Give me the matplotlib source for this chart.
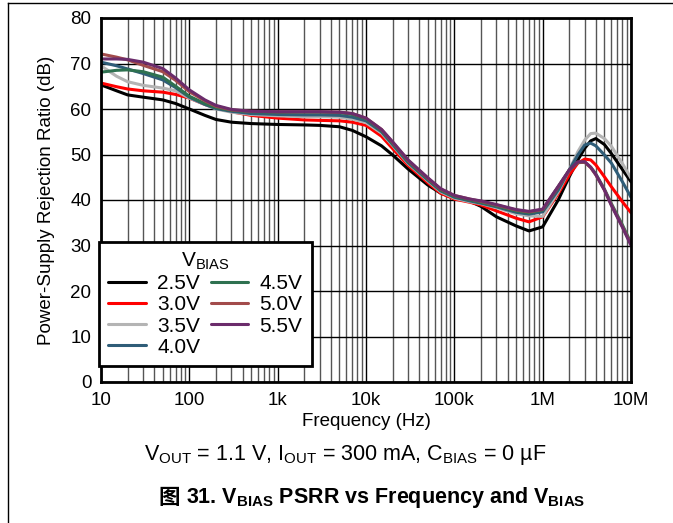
import matplotlib
matplotlib.use('Agg')
import matplotlib.pyplot as plt
from matplotlib.lines import Line2D
from matplotlib.ticker import LogLocator, NullFormatter

plt.rcParams['font.family'] = ['Liberation Sans', 'Noto Sans CJK SC']
plt.rcParams['mathtext.fontset'] = 'custom'
plt.rcParams['mathtext.rm'] = 'Liberation Sans'
plt.rcParams['mathtext.it'] = 'Liberation Sans:italic'
plt.rcParams['mathtext.bf'] = 'Liberation Sans:bold'

FS_TICK = 13.5
FS_LABEL = 13.5
FS_LEG = 15
FS_BIG = 15.5

freq = [10, 15, 20, 30, 50, 70, 100, 150, 200, 300, 500, 1e3, 2e3, 3e3, 5e3, 7e3,
        1e4, 1.5e4, 2e4, 3e4, 5e4, 7e4, 1e5, 1.5e5, 2e5, 3e5, 5e5, 7e5,
        1e6, 1.5e6, 2e6, 2.5e6, 3e6, 3.5e6, 4e6, 5e6, 6e6, 8e6, 1e7]

psrr_25 = [65.3, 64.0, 63.1, 62.6, 62.0, 61.2, 60.0, 58.6, 57.7, 57.1, 56.8, 56.6, 56.5, 56.4, 56.1, 55.3,
           53.9, 51.9, 49.9, 46.8, 43.3, 41.5, 40.4, 39.7, 38.6, 36.3, 34.3, 33.2,
           34.1, 40.0, 45.1, 48.8, 51.4, 53.0, 53.5, 52.2, 50.2, 46.7, 44.0]
psrr_30 = [65.7, 64.9, 64.4, 64.0, 63.7, 63.2, 62.4, 61.0, 60.2, 59.4, 58.6, 58.0, 57.6, 57.5, 57.4, 57.1,
           56.4, 54.0, 51.3, 47.6, 43.8, 41.5, 40.2, 39.5, 38.9, 37.6, 36.0, 35.2,
           36.3, 41.4, 45.5, 48.1, 49.0, 48.8, 47.7, 45.1, 42.9, 39.6, 37.2]
psrr_35 = [69.5, 67.2, 66.0, 65.2, 64.6, 64.0, 62.4, 61.0, 60.0, 59.3, 58.8, 58.5, 58.3, 58.3, 58.2, 57.8,
           57.0, 54.7, 52.0, 48.0, 44.2, 41.8, 40.4, 39.6, 39.2, 38.3, 37.0, 36.5,
           36.4, 41.8, 46.6, 50.6, 53.2, 54.6, 54.7, 53.5, 51.8, 48.0, 44.8]
psrr_40 = [70.3, 69.5, 68.8, 67.8, 66.4, 64.7, 62.6, 61.0, 60.1, 59.5, 59.0, 58.8, 58.7, 58.7, 58.6, 58.2,
           57.4, 55.0, 52.2, 48.2, 44.4, 42.0, 40.6, 39.8, 39.3, 38.5, 37.3, 36.9,
           37.4, 42.2, 46.6, 49.9, 52.1, 52.5, 51.9, 49.9, 48.1, 44.0, 40.6]
psrr_45 = [68.1, 68.5, 68.6, 68.2, 67.0, 65.0, 62.8, 61.2, 60.3, 59.7, 59.4, 59.3, 59.3, 59.3, 59.2, 58.8,
           57.8, 55.3, 52.5, 48.5, 44.6, 42.2, 40.8, 40.0, 39.5, 38.7, 37.6, 37.2,
           37.8, 42.9, 46.6, 48.2, 48.3, 47.2, 45.7, 42.4, 39.2, 34.5, 30.6]
psrr_50 = [72.1, 71.4, 70.8, 69.6, 68.2, 66.3, 63.8, 61.8, 60.6, 59.8, 59.5, 59.4, 59.4, 59.4, 59.3, 59.0,
           58.0, 55.5, 52.7, 48.7, 44.8, 42.4, 41.0, 40.2, 39.7, 38.9, 37.8, 37.4,
           37.9, 42.9, 46.5, 48.3, 48.3, 47.1, 45.5, 42.2, 38.9, 34.1, 30.3]
psrr_55 = [71.0, 71.0, 70.9, 70.3, 68.9, 66.8, 64.2, 62.0, 60.8, 59.9, 59.5, 59.4, 59.4, 59.4, 59.3, 59.0,
           58.0, 55.5, 52.8, 48.8, 44.9, 42.5, 41.0, 40.2, 39.8, 39.0, 37.9, 37.5,
           38.0, 43.0, 46.6, 48.4, 48.4, 47.2, 45.6, 42.2, 38.8, 34.0, 30.0]

labels = ['2.5V', '3.0V', '3.5V', '4.0V', '4.5V', '5.0V', '5.5V']
series = [psrr_25, psrr_30, psrr_35, psrr_40, psrr_45, psrr_50, psrr_55]
colors = ['#000000', '#ff0000', '#b4b4b4', '#2f5d78', '#2e7150', '#a24b4b', '#6b2c6b']

x_ticks = [10, 100, 1e3, 1e4, 1e5, 1e6, 1e7]
x_ticklabels = ['10', '100', '1k', '10k', '100k', '1M', '10M']
y_ticks = [0, 10, 20, 30, 40, 50, 60, 70, 80]

fig = plt.figure(figsize=(6.73, 5.23), dpi=100)
ax = fig.add_axes([101 / 673, 1 - 382 / 523, 530 / 673, 364 / 523])

for ys, c, lab in zip(series, colors, labels):
    ax.plot(freq, ys, color=c, lw=2.2, label=lab, solid_capstyle='round')

ax.set_xscale('log')
ax.set_xlim(10, 1e7)
ax.set_ylim(0, 80)
ax.set_xticks(x_ticks)
ax.set_xticklabels(x_ticklabels)
ax.xaxis.set_minor_locator(LogLocator(base=10, subs=range(2, 10), numticks=20))
ax.xaxis.set_minor_formatter(NullFormatter())
ax.set_yticks(y_ticks)
ax.tick_params(which='both', length=0, labelsize=FS_TICK, pad=7)
ax.grid(which='major', color='black', lw=1.0)
ax.grid(which='minor', axis='x', color='#555555', lw=1.0)
ax.set_axisbelow(True)
for s in ax.spines.values():
    s.set_linewidth(2)

ax.set_xlabel('Frequency (Hz)', fontsize=FS_LABEL, labelpad=3)
ax.set_ylabel('Power-Supply Rejection Ratio (dB)', fontsize=FS_LABEL, labelpad=11)

handles, labs = ax.get_legend_handles_labels()
leg = ax.legend(handles, labs, ncol=2, title='V$_{\\mathrm{BIAS}}$', fontsize=FS_LEG,
                title_fontsize=FS_LEG, loc='lower left', bbox_to_anchor=(-0.004, 0.044),
                frameon=True, fancybox=False, framealpha=1, edgecolor='black',
                handlelength=1.8, handletextpad=0.55, columnspacing=0.5,
                labelspacing=0.1, borderpad=0.45, borderaxespad=0)
leg.get_frame().set_linewidth(2)

fig.text(345 / 673, 1 - 455 / 523,
         'V$_{\\mathrm{OUT}}$ = 1.1 V, I$_{\\mathrm{OUT}}$ = 300 mA, C$_{\\mathrm{BIAS}}$ = 0 µF',
         fontsize=FS_BIG, ha='center', va='center')

cap_y = 1 - 498 / 523
t1 = fig.text(158 / 673, cap_y, '图', family='Noto Sans CJK SC', fontweight='bold',
              fontsize=FS_BIG, ha='left', va='center')
fig.canvas.draw()
bb = t1.get_window_extent()
fig.text(bb.x1 / fig.bbox.width + 6 / 673, cap_y,
         '31. $\\mathbf{V}_{\\mathbf{BIAS}}$ PSRR vs Frequency and $\\mathbf{V}_{\\mathbf{BIAS}}$',
         fontsize=FS_BIG, fontweight='bold', ha='left', va='center')

# page border (top and left only)
fig.add_artist(Line2D([8 / 673, 1], [1 - 3 / 523, 1 - 3 / 523], transform=fig.transFigure,
                      color='black', lw=1))
fig.add_artist(Line2D([8 / 673, 8 / 673], [0, 1 - 3 / 523], transform=fig.transFigure,
                      color='black', lw=1))

fig.savefig('out.png', dpi=100)
